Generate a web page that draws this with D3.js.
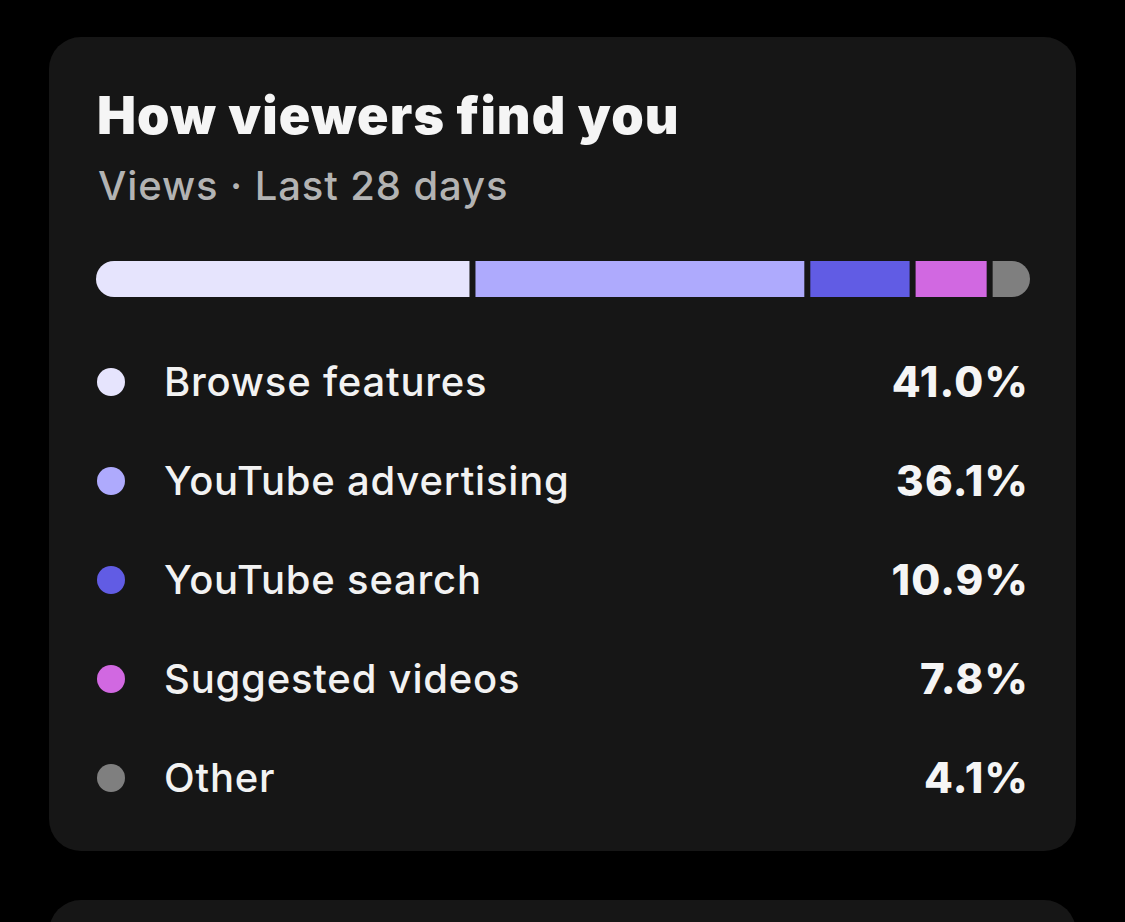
<!DOCTYPE html>
<html><head><meta charset="utf-8">
<script src="https://cdn.jsdelivr.net/npm/d3@7"></script>
<style>
html,body{margin:0;padding:0;background:#000;}
svg{display:block;}
</style></head>
<body>
<script>
const categories = ["Browse features","YouTube advertising","YouTube search","Suggested videos","Other"];
const values = [41.0, 36.1, 10.9, 7.8, 4.1];
const valueLabels = ["41.0%","36.1%","10.9%","7.8%","4.1%"];
const colors = ["#e6e4fd","#aeaafd","#615ce4","#d168e1","#7f7f7f"];
const title = "How viewers find you";
const subtitle = "Views · Last 28 days";

const W = 1125, H = 922;
const svg = d3.select("body").append("svg").attr("width", W).attr("height", H);
svg.append("rect").attr("width", W).attr("height", H).attr("fill", "#000");

// card
svg.append("rect").attr("x", 49).attr("y", 37).attr("width", 1027).attr("height", 814)
  .attr("rx", 32).attr("fill", "#161616");
// next card peeking
svg.append("rect").attr("x", 49).attr("y", 900).attr("width", 1027).attr("height", 100)
  .attr("rx", 32).attr("fill", "#161616");

const font = "Inter, 'Noto Sans', sans-serif";
svg.append("text").attr("x", 97).attr("y", 134).text(title)
  .attr("font-family", font).attr("font-weight", 900).attr("font-size", 52)
  .attr("fill", "#f5f5f5").attr("letter-spacing", 1.1);
svg.append("text").attr("x", 98).attr("y", 200).text(subtitle)
  .attr("font-family", font).attr("font-weight", 500).attr("font-size", 40)
  .attr("fill", "#b3b3b3").attr("letter-spacing", 0.9);

// stacked bar
const barX0 = 96, barX1 = 1030, barY = 261, barH = 36, gap = 6;
const total = d3.sum(values);
const avail = (barX1 - barX0) - gap * (values.length - 1);
const x = d3.scaleLinear().domain([0, total]).range([0, avail]);
let acc = 0;
const segs = values.map((v, i) => {
  const s = { i, x0: barX0 + x(acc) + gap * i, w: x(v) };
  acc += v; return s;
});
const clip = svg.append("defs").append("clipPath").attr("id", "barclip");
clip.append("rect").attr("x", barX0).attr("y", barY).attr("width", barX1 - barX0)
  .attr("height", barH).attr("rx", barH / 2);
svg.append("g").attr("clip-path", "url(#barclip)")
  .selectAll("rect").data(segs).join("rect")
  .attr("x", d => d.x0).attr("y", barY).attr("width", d => d.w).attr("height", barH)
  .attr("fill", d => colors[d.i]);

// legend
const y = d3.scalePoint().domain(categories).range([382, 778]);
const rows = svg.append("g").selectAll("g").data(categories).join("g")
  .attr("transform", d => `translate(0,${y(d)})`);
rows.append("circle").attr("cx", 111).attr("cy", 0).attr("r", 14)
  .attr("fill", (d, i) => colors[i]);
rows.append("text").attr("x", 164).attr("y", 14).text(d => d)
  .attr("font-family", font).attr("font-weight", 500).attr("font-size", 40)
  .attr("fill", "#f2f2f2").attr("letter-spacing", 0.8);
rows.append("text").attr("x", 1029).attr("y", 15).attr("text-anchor", "end")
  .text((d, i) => valueLabels[i])
  .attr("font-family", font).attr("font-weight", 800).attr("font-size", 42)
  .attr("fill", "#f5f5f5").attr("letter-spacing", 1.2);
</script>
</body></html>
